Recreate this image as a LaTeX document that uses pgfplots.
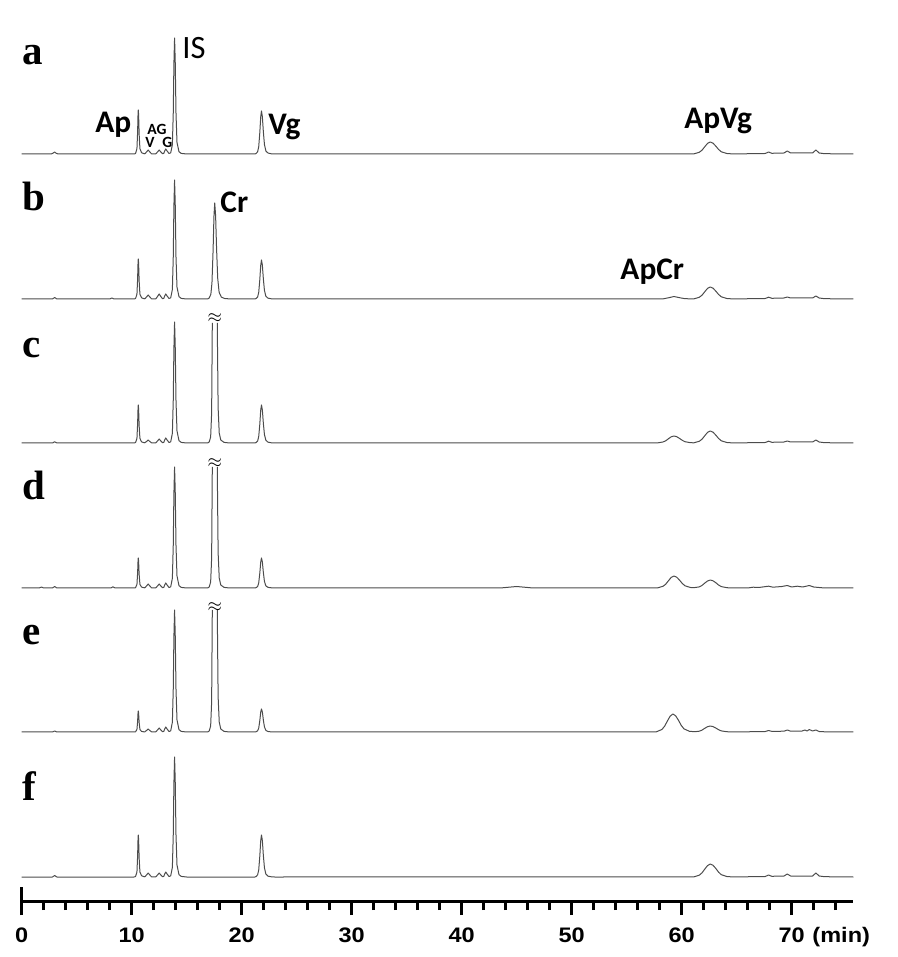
\documentclass[border=0pt]{standalone}
\usepackage{fontspec}
\setmainfont{Liberation Serif}
\newfontfamily\arial{Liberation Sans}
\newfontfamily\calibri{Carlito}
\usepackage{pgfplots}
\usepackage{pgfplotstable}
\pgfplotsset{compat=1.18}

% chromatograms: t in min, h = signal above own baseline (px units)
\pgfplotstableread{
t h
0 0
2.7 0
2.9 1.2
3.0 2
3.1 1
3.3 0
10.2 0
10.35 0.4
10.48 5.3
10.54 22
10.58 40.5
10.6 44
10.63 39.6
10.68 19.8
10.75 5.3
10.9 1.3
11.1 0.4
11.2 0.2
11.38 2.4
11.5 4
11.62 2.4
11.8 0.2
12.2 0.2
12.38 2.4
12.5 4
12.62 2.4
12.8 0.3
12.92 0.6
13.0 3
13.1 5
13.22 3
13.4 0.5
13.55 1.2
13.7 9.3
13.78 40.6
13.84 90.5
13.9 116
13.96 92.8
14.03 40.6
14.12 11.6
14.3 2.3
14.5 0.6
15.0 0
21.2 0
21.3 0.4
21.45 2.2
21.55 7.3
21.65 21.5
21.73 37
21.8 43
21.88 37.4
21.97 22.4
22.07 9.5
22.2 3
22.4 0.9
22.7 0.2
23.0 0
61.1 0.1
61.6 1.7
61.85 3.8
62.1 7.3
62.35 10.6
62.6 12
62.85 10.8
63.1 7.9
63.35 4.6
63.6 2.2
64.1 0.5
64.6 0.1
66.5 0.3
67.6 0.5
67.78 1.4
67.9 2
68.02 1.4
68.2 0.7
69.3 1
69.48 2.2
69.6 3
69.72 2.2
69.9 1
71.9 1
72.08 2.8
72.2 4
72.32 2.8
72.5 1
73.0 0.3
75.6 0
}\tra

\pgfplotstableread{
t h
0 0
2.8 0
3.0 1.5
3.2 0
8.0 0
8.2 1
8.4 0
10.2 0
10.35 0.4
10.48 4.8
10.54 20
10.58 36.8
10.6 40
10.63 36
10.68 18
10.75 4.8
10.9 1.2
11.1 0.4
11.2 0.2
11.38 2.4
11.5 4
11.62 2.4
11.8 0.2
12.2 0.2
12.38 3
12.5 5
12.62 3
12.8 0.3
12.92 0.6
13.0 3
13.1 5
13.22 3
13.4 0.5
13.55 1.2
13.7 9.5
13.78 41.7
13.84 92.8
13.9 119
13.96 95.2
14.03 41.7
14.12 11.9
14.3 2.4
14.5 0.6
15.0 0
16.9 0
17.05 1
17.2 4.8
17.3 16.3
17.4 48
17.48 82.6
17.55 96
17.63 83.5
17.72 50
17.82 21
17.95 6.7
18.15 1.9
18.45 0.5
19.0 0
21.2 0
21.3 0.4
21.45 2
21.55 6.6
21.65 19.5
21.73 33.5
21.8 39
21.88 33.9
21.97 20.3
22.07 8.6
22.2 2.7
22.4 0.8
22.7 0.2
23.0 0
58.0 0
58.3 0.1
58.8 1.2
59.3 2.5
59.8 1.3
60.3 0.3
61.1 0.1
61.6 1.7
61.85 3.8
62.1 7.3
62.35 10.6
62.6 12
62.85 10.8
63.1 7.9
63.35 4.6
63.6 2.2
64.1 0.5
64.6 0.1
66.5 0.3
67.6 0.5
67.9 1.8
68.2 0.7
69.3 1
69.6 2
69.9 1
71.9 1
72.2 3
72.5 1
73.0 0.3
75.6 0
}\trb

\pgfplotstableread{
t h
0 0
2.8 0
3.0 1.2
3.2 0
10.2 0
10.35 0.4
10.48 4.6
10.54 19
10.58 35
10.6 38
10.63 34.2
10.68 17.1
10.75 4.6
10.9 1.1
11.1 0.4
11.2 0.2
11.38 1.8
11.5 3
11.62 1.8
11.8 0.2
12.2 0.2
12.38 2.4
12.5 4
12.62 2.4
12.8 0.3
12.92 0.6
13.0 3
13.1 5
13.22 3
13.4 0.5
13.55 1.2
13.7 9.7
13.78 42.4
13.84 94.4
13.9 121
13.96 96.8
14.03 42.4
14.12 12.1
14.3 2.4
14.5 0.6
15.0 0
16.9 0
17.05 1
17.18 6
17.27 30
17.33 120
17.55 nan
17.78 120
17.86 35
17.96 10
18.1 3
18.4 0.6
18.9 0
21.2 0
21.3 0.4
21.45 1.9
21.55 6.5
21.65 19
21.73 32.7
21.8 38
21.88 33.1
21.97 19.8
22.07 8.4
22.2 2.7
22.4 0.8
22.7 0.2
23.0 0
57.8 0.1
58.3 1
58.55 2.2
58.8 4.3
59.05 6.2
59.3 7
59.55 6.3
59.8 4.6
60.05 2.7
60.3 1.3
60.8 0.3
61.1 0.2
61.6 1.7
61.85 3.8
62.1 7.3
62.35 10.6
62.6 12
62.85 10.8
63.1 7.9
63.35 4.6
63.6 2.2
64.1 0.5
64.6 0.1
66.5 0.3
67.6 0.5
67.9 1.8
68.2 0.7
69.3 1
69.6 2
69.9 1
71.9 1
72.2 3
72.5 1
73.0 0.3
75.6 0
}\trc

\pgfplotstableread{
t h
0 0
1.6 0
1.8 1
2.0 0
2.8 0
3.0 1.5
3.2 0
8.1 0
8.3 1.2
8.5 0
10.2 0
10.35 0.3
10.48 3.6
10.54 15
10.58 27.6
10.6 30
10.63 27
10.68 13.5
10.75 3.6
10.9 0.9
11.1 0.3
11.2 0.2
11.38 2.4
11.5 4
11.62 2.4
11.8 0.2
12.2 0.2
12.38 2.4
12.5 4
12.62 2.4
12.8 0.3
12.92 0.6
13.0 3
13.1 5
13.22 3
13.4 0.5
13.55 1.2
13.7 9.7
13.78 42.4
13.84 94.4
13.9 121
13.96 96.8
14.03 42.4
14.12 12.1
14.3 2.4
14.5 0.6
15.0 0
16.9 0
17.05 1
17.18 6
17.27 30
17.33 121
17.55 nan
17.78 121
17.86 35
17.96 10
18.1 3
18.4 0.6
18.9 0
21.2 0
21.3 0.3
21.45 1.5
21.55 5.1
21.65 15
21.73 25.8
21.8 30
21.88 26.1
21.97 15.6
22.07 6.6
22.2 2.1
22.4 0.6
22.7 0.2
23.0 0
43.5 0
44.5 1
45.0 1.5
45.5 1
46.5 0
57.8 0.1
58.3 1.7
58.55 3.8
58.8 7.3
59.05 10.6
59.3 12
59.55 10.8
59.8 7.9
60.05 4.6
60.3 2.2
60.8 0.5
61.1 0.3
61.6 1.1
61.85 2.6
62.1 4.9
62.35 7
62.6 8
62.85 7.2
63.1 5.3
63.35 3
63.6 1.4
64.1 0.3
64.6 0
66.0 0
66.5 0.8
67.0 0.5
67.9 1.8
68.3 0.8
69.1 1.5
69.6 2.5
70.0 1
70.5 1.8
71.0 1
71.6 2.5
72.0 1
72.5 0.5
73.0 0
75.6 0
}\trd

\pgfplotstableread{
t h
0 0
2.8 0
3.0 1
3.2 0
10.2 0
10.35 0.2
10.48 2.5
10.54 10.5
10.58 19.3
10.6 21
10.63 18.9
10.68 9.5
10.75 2.5
10.9 0.6
11.1 0.2
11.2 0.2
11.38 1.8
11.5 3
11.62 1.8
11.8 0.2
12.2 0.2
12.38 2.4
12.5 4
12.62 2.4
12.8 0.3
12.92 0.6
13.0 3
13.1 5
13.22 3
13.4 0.5
13.55 1.2
13.7 9.8
13.78 42.7
13.84 95.2
13.9 122
13.96 97.6
14.03 42.7
14.12 12.2
14.3 2.4
14.5 0.6
15.0 0
16.9 0
17.05 1
17.18 6
17.27 30
17.33 122
17.55 nan
17.78 122
17.86 35
17.96 10
18.1 3
18.4 0.6
18.9 0
21.2 0
21.3 0.2
21.45 1.2
21.55 3.9
21.65 11.5
21.73 19.8
21.8 23
21.88 20
21.97 12
22.07 5.1
22.2 1.6
22.4 0.5
22.7 0.1
23.0 0
57.7 0.2
58.2 2.5
58.45 5.8
58.7 11
58.95 15.8
59.2 18
59.45 16.2
59.7 11.9
59.95 6.8
60.2 3.2
60.7 0.7
61.2 0.3
61.6 0.8
61.85 1.9
62.1 3.7
62.35 5.3
62.6 6
62.85 5.4
63.1 4
63.35 2.3
63.6 1.1
64.1 0.3
64.6 0
66.5 0.3
67.6 0.5
67.9 1.5
68.2 0.6
69.3 0.8
69.6 2
69.9 0.8
70.9 0.8
71.2 2
71.4 1
71.6 2.5
71.9 1
72.2 2
72.5 0.5
73.0 0.2
75.6 0
}\tre

\pgfplotstableread{
t h
0 0
2.8 0
3.0 1.5
3.2 0
10.2 0
10.35 0.4
10.48 5
10.54 21
10.58 38.6
10.6 42
10.63 37.8
10.68 18.9
10.75 5
10.9 1.3
11.1 0.4
11.2 0.2
11.38 2.4
11.5 4
11.62 2.4
11.8 0.2
12.2 0.2
12.38 2.4
12.5 4
12.62 2.4
12.8 0.3
12.92 0.6
13.0 3
13.1 5
13.22 3
13.4 0.5
13.55 1.2
13.7 9.6
13.78 42
13.84 93.6
13.9 120
13.96 96
14.03 42
14.12 12
14.3 2.4
14.5 0.6
15.0 0
21.2 0
21.3 0.4
21.45 2.1
21.55 7.1
21.65 21
21.73 36.1
21.8 42
21.88 36.5
21.97 21.8
22.07 9.2
22.2 2.9
22.4 0.8
22.7 0.2
23.0 0
61.1 0.1
61.6 1.8
61.85 4.2
62.1 7.9
62.35 11.4
62.6 13
62.85 11.7
63.1 8.6
63.35 4.9
63.6 2.3
64.1 0.5
64.6 0.1
66.5 0.3
67.6 0.5
67.78 1.4
67.9 2
68.02 1.4
68.2 0.7
69.3 1
69.48 2.2
69.6 3
69.72 2.2
69.9 1
71.9 1
72.08 2.8
72.2 4
72.32 2.8
72.5 1
73.0 0.3
75.6 0
}\trf

\begin{document}
\begin{tikzpicture}
\begin{axis}[
    x=5.5pt, y=0.5pt,
    xmin=0, xmax=75.6, ymin=56, ymax=957,
    axis x line=bottom, axis y line=none,
    x axis line style={-, line width=1.5pt},
    xtick={0,10,...,70},
    minor xtick={2,4,...,74},
    tick align=outside,
    major tick length=7pt, minor tick length=4.5pt,
    tick style={black, line width=1.5pt},
    extra x ticks={0}, extra x tick labels={},
    extra x tick style={tick align=center, major tick length=14pt},
    xticklabel style={font=\arial\bfseries\fontsize{10.5}{12}\selectfont, xscale=1.12, inner sep=0pt, anchor=north, yshift=-6pt},
    /pgf/number format/assume math mode=true,
    clip=false, unbounded coords=jump,
    trace/.style={black!70, line width=0.5pt, line join=round, mark=none},
  ]
  \path (axis cs:-1.97,0) rectangle (axis cs:79.66,957);

  \addplot[trace] table[x=t, y expr=\thisrow{h}+803] {\tra};
  \addplot[trace] table[x=t, y expr=\thisrow{h}+658] {\trb};
  \addplot[trace] table[x=t, y expr=\thisrow{h}+514] {\trc};
  \addplot[trace] table[x=t, y expr=\thisrow{h}+369] {\trd};
  \addplot[trace] table[x=t, y expr=\thisrow{h}+225] {\tre};
  \addplot[trace] table[x=t, y expr=\thisrow{h}+80] {\trf};

  % panel letters
  \begin{scope}[every node/.style={anchor=base west, inner sep=0pt, font=\bfseries\fontsize{20.5}{21}\selectfont}]
    \node at (axis cs:0.05,892) {a};
    \node at (axis cs:0.05,746) {b};
    \node at (axis cs:0.05,599) {c};
    \node at (axis cs:0.05,457) {d};
    \node at (axis cs:0.05,312) {e};
    \node at (axis cs:0.05,157) {f};
  \end{scope}

  % peak names
  \begin{scope}[every node/.style={anchor=base west, inner sep=0pt, font=\calibri\bfseries\fontsize{15.7}{16}\selectfont}]
    \node at (axis cs:6.66,824) {Ap};
    \node at (axis cs:22.4,822) {Vg};
    \node at (axis cs:60.2,828) {ApVg};
    \node at (axis cs:18.03,744) {Cr};
    \node at (axis cs:54.4,677) {ApCr};
  \end{scope}
  \node[anchor=base west, inner sep=0pt, font=\calibri\fontsize{16.3}{17}\selectfont] at (axis cs:14.57,898) {IS};
  \begin{scope}[every node/.style={anchor=base west, inner sep=0pt, font=\calibri\bfseries\fontsize{7.8}{8}\selectfont}]
    \node at (axis cs:11.39,822) {AG};
    \node at (axis cs:11.2,809) {V};
    \node at (axis cs:12.75,809) {G};
  \end{scope}

  % broken-peak marks
  \node[inner sep=0pt, font=\fontsize{9}{10}\selectfont] at (axis cs:17.55,639) {$\approx$};
  \node[inner sep=0pt, font=\fontsize{9}{10}\selectfont] at (axis cs:17.55,494) {$\approx$};
  \node[inner sep=0pt, font=\fontsize{9}{10}\selectfont] at (axis cs:17.55,350) {$\approx$};

  \node[anchor=base west, inner sep=0pt, xscale=1.12, font=\arial\bfseries\fontsize{10.5}{12}\selectfont] at (axis cs:71.85,15) {(min)};
\end{axis}
\end{tikzpicture}
\end{document}
